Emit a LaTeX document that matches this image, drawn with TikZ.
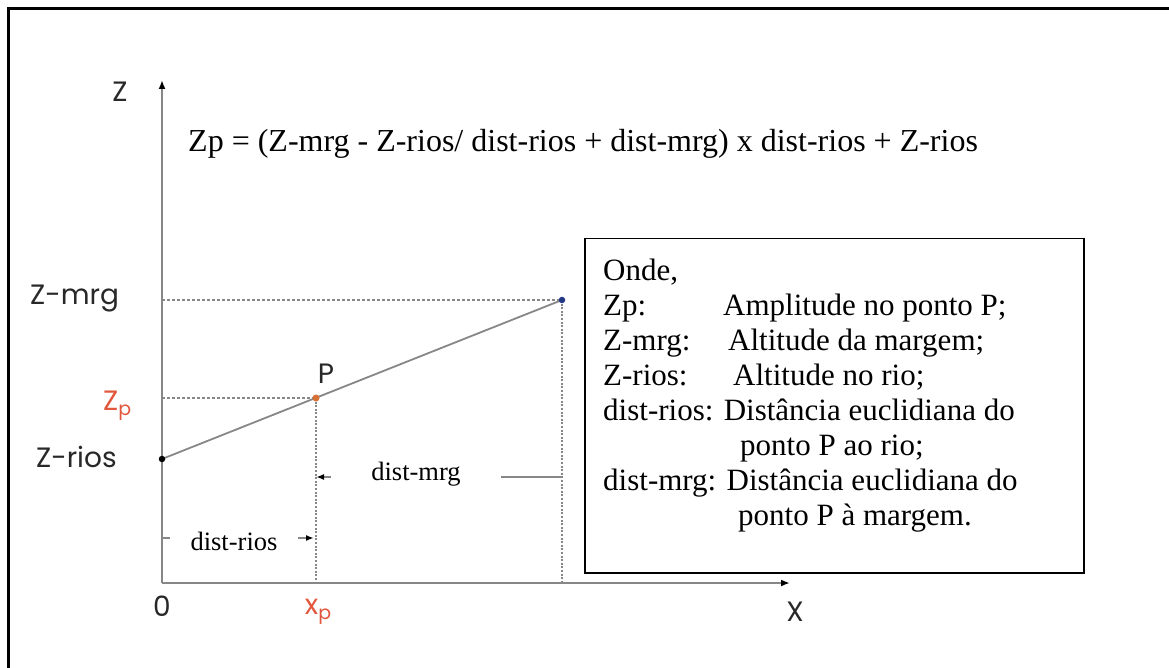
\documentclass[tikz,border=0pt]{standalone}
\usepackage{fontspec}
\setmainfont{Liberation Serif}
\newfontfamily\labfont{Poppins}
\usetikzlibrary{arrows.meta}
\definecolor{axisgray}{RGB}{135,135,135}
\definecolor{redlab}{RGB}{226,86,60}
\definecolor{dotblue}{RGB}{35,55,135}
\definecolor{dotorange}{RGB}{214,112,52}
\definecolor{labblack}{RGB}{40,40,40}
\tikzset{
  axisline/.style={draw=axisgray, line width=1.8pt, -{Latex[length=9pt,width=7pt,color=black]}},
  hguide/.style={draw=axisgray, line width=1.2pt, dash pattern=on 3pt off 2pt},
  vguide/.style={draw=axisgray, line width=1.5pt, dash pattern=on 2pt off 1.6pt},
  slope/.style={draw=axisgray, line width=1.8pt},
  dimline/.style={draw=axisgray, line width=1.6pt},
  dimtip/.style={-{Latex[length=8pt,width=6pt,color=black]}},
  sanslab/.style={font=\labfont\fontsize{28}{32}\selectfont, text=labblack, inner sep=0pt},
  redsans/.style={font=\labfont\fontsize{28}{32}\selectfont, text=redlab, inner sep=0pt},
  dimlab/.style={font=\fontsize{26.5}{30}\selectfont, fill=white, inner sep=0pt},
  formula/.style={font=\fontsize{32}{38}\selectfont, inner sep=0pt, anchor=base west},
  legtext/.style={font=\fontsize{31}{35}\selectfont, inner sep=0pt, anchor=base west},
  pdot/.style={circle, inner sep=0pt, minimum size=6.5pt},
}
\newcommand{\subp}{\raisebox{-0.35ex}{\fontsize{19}{19}\selectfont p}}
\begin{document}
\begin{tikzpicture}[x=1pt,y=-1pt]
\useasboundingbox (0,0) rectangle (1169,668);
\fill[white] (0,0) rectangle (1169,668);
% outer frame (top and left edges visible)
\coordinate (fbl) at (8,668);
\coordinate (ftl) at (8,9);
\coordinate (ftr) at (1169,9);
\draw[line width=3pt, line cap=rect] (fbl) -- (ftl) -- (ftr);

% axes
\coordinate (O) at (162,583);
\coordinate (ztip) at (162,80);
\coordinate (xtip) at (790,583);
\draw[axisline] (O) -- (ztip);
\draw[axisline] (O) -- (xtip);

% points
\coordinate (zr) at (162,459);
\coordinate (zm) at (562,300);
\coordinate (zmaxis) at (162,300);
\coordinate (zpaxis) at (162,398);
\coordinate (pp) at (316,398);
\coordinate (xpaxis) at (316,583);
\coordinate (xmaxis) at (562,583);

\draw[hguide] (zmaxis) -- (zm);
\draw[hguide] (zpaxis) -- (pp);
\draw[vguide] (pp) -- (xpaxis);
\draw[vguide] (zm) -- (xmaxis);
\draw[slope] (zr) -- (zm);

\node[pdot, fill=black] (zrdot) at (zr) {};
\node[pdot, fill=dotblue] (zmdot) at (zm) {};
\node[pdot, fill=dotorange, minimum size=7pt] (pdotn) at (pp) {};

% dimension lines
\coordinate (dm1) at (316,477);
\coordinate (dm2) at (562,477);
\draw[dimline, {Latex[length=8pt,width=6pt,color=black]}-] (dm1) -- (dm2);
\node[dimlab, minimum width=170pt, minimum height=34pt] (distmrg) at (416,474) {dist-mrg};
\coordinate (dr1) at (162,538);
\coordinate (dr2) at (314,538);
\draw[dimline, dimtip] (dr1) -- (dr2);
\node[dimlab, minimum width=128pt, minimum height=34pt] (distrios) at (234,541) {dist-rios};

% axis labels
\node[sanslab, anchor=center] (zlab) at (120,92) {Z};
\node[sanslab, anchor=base west] (zmrglab) at (30,304) {Z-mrg};
\node[redsans, anchor=base west] (zplab) at (103,410) {Z\subp};
\node[sanslab, anchor=base west] (zrioslab) at (36,467) {Z-rios};
\node[sanslab, anchor=base] (plab) at (326,383) {P};
\node[sanslab, anchor=center] (olab) at (162,606) {0};
\node[redsans, anchor=base] (xplab) at (318,614) {x\subp};
\node[sanslab, anchor=center] (xlab) at (795,612) {X};

% formula
\node[formula] (eq) at (188,152) {Zp = (Z-mrg - Z-rios/ dist-rios + dist-mrg) x dist-rios + Z-rios};

% legend box
\node[draw=black, line width=1.5pt, fill=white, anchor=north west, minimum width=499pt, minimum height=334pt, inner sep=0pt] (legend) at (584,238) {};
\node[legtext] (l1) at (603,280) {Onde,};
\node[legtext] (l2a) at (603,315) {Zp:};
\node[legtext] (l2b) at (723,315) {Amplitude no ponto P;};
\node[legtext] (l3a) at (603,350) {Z-mrg:};
\node[legtext] (l3b) at (728,350) {Altitude da margem;};
\node[legtext] (l4a) at (603,385) {Z-rios:};
\node[legtext] (l4b) at (733,385) {Altitude no rio;};
\node[legtext] (l5) at (603,420) {dist-rios: Distância euclidiana do};
\node[legtext] (l6) at (740,455) {ponto P ao rio;};
\node[legtext] (l7) at (603,490) {dist-mrg: Distância euclidiana do};
\node[legtext] (l8) at (738,525) {ponto P à margem.};
\end{tikzpicture}
\end{document}
